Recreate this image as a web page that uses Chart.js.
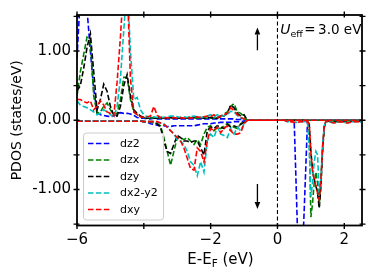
<!DOCTYPE html>
<html><head><meta charset="utf-8">
<script src="https://cdn.jsdelivr.net/npm/chart.js@4/dist/chart.umd.min.js"></script>
<style>html,body{margin:0;padding:0;background:#fff;}canvas{display:block;}</style>
</head><body>
<canvas id="c" width="374" height="280"></canvas>
<script>
// ---- data (energy grid in eV, PDOS in states/eV) ----
const energies = [
 -6.0,-5.9,-5.8,-5.7,-5.6,-5.5,-5.4,-5.3,-5.2,-5.1,
 -5.0,-4.9,-4.8,-4.7,-4.6,-4.5,-4.4,-4.3,-4.2,-4.1,
 -4.0,-3.9,-3.8,-3.7,-3.6,-3.5,-3.4,-3.3,-3.2,-3.1,
 -3.0,-2.9,-2.8,-2.7,-2.6,-2.5,-2.4,-2.3,-2.2,-2.1,
 -2.0,-1.9,-1.8,-1.7,-1.6,-1.5,-1.4,-1.3,-1.2,-1.1,
 -1.0,-0.9,-0.8,-0.7,-0.6,-0.5,-0.4,-0.3,-0.2,-0.1,
 0.0,0.1,0.2,0.3,0.4,0.5,0.6,0.7,0.8,0.9,
 0.95,1.0,1.05,1.1,1.15,1.2,1.25,1.3,1.35,1.4,1.45,1.5,
 1.6,1.7,1.8,1.9,2.0,2.1,2.2,2.3,2.4,2.5];

const orbitals = ['dz2','dzx','dzy','dx2-y2','dxy'];

const dz2Up = [
 0.9,1.8,2.5,1.6,1.0,0.45,0.12,0.08,0.07,0.06,
 0.05,0.06,0.1,0.11,0.1,0.1,0.09,0.07,0.04,0.03,
 0.03,0.02,0.02,0.03,0.02,0.02,0.02,0.02,0.02,0.02,
 0.02,0.02,0.02,0.02,0.02,0.02,0.02,0.02,0.02,0.02,
 0.02,0.02,0.02,0.02,0.02,0.02,0.02,0.02,0.01,0.01,
 0.01,0,0,0,0,0,0,0,0,0,
 0,0,0,0,0,0,0,0,0,0,
 0,0,0,0,0,0,0,0,0,0,0,0,
 0,0,0,0,0,0,0,0,0,0];
const dz2Down = [
 -0.01,-0.01,-0.01,-0.01,-0.01,-0.01,-0.01,-0.01,-0.01,-0.01,
 -0.01,-0.01,-0.01,-0.01,-0.01,-0.01,-0.01,-0.01,-0.01,-0.01,
 -0.02,-0.03,-0.05,-0.06,-0.07,-0.08,-0.08,-0.09,-0.09,-0.08,
 -0.08,-0.08,-0.08,-0.08,-0.08,-0.08,-0.07,-0.06,-0.05,-0.05,
 -0.05,-0.04,-0.04,-0.03,-0.03,-0.03,-0.03,-0.02,-0.02,-0.02,
 -0.01,0,0,0,0,0,0,0,0,0,
 0,0,0,0,0,0,-1.6,-2.5,-1.3,0,
 0,0,0,0,0,0,0,0,0,0,0,0,
 0,0,0,0,0,0,0,0,0,0];

const dzxUp = [
 0.35,0.7,0.95,1.2,1.15,0.35,0.1,0.12,0.2,0.25,
 0.15,0.08,0.1,0.3,0.62,0.62,0.3,0.12,0.08,0.05,
 0.04,0.03,0.03,0.04,0.03,0.03,0.04,0.03,0.03,0.04,
 0.03,0.04,0.03,0.03,0.04,0.03,0.03,0.04,0.03,0.03,
 0.03,0.03,0.05,0.06,0.09,0.12,0.2,0.24,0.12,0.1,
 0.05,0,0,0,0,0,0,0,0,0,
 0,0,0,0,0,0,0,0,0,0,
 0,0,0,0,0,0,0,0,0,0,0,0,
 0,0,0,0,0,0,0,0,0,0];
const dzxDown = [
 -0.01,-0.01,-0.01,-0.01,-0.01,-0.01,-0.01,-0.01,-0.01,-0.01,
 -0.01,-0.01,-0.01,-0.01,-0.01,-0.01,-0.01,-0.01,-0.01,-0.01,
 -0.02,-0.02,-0.03,-0.04,-0.05,-0.08,-0.25,-0.45,-0.65,-0.45,
 -0.25,-0.25,-0.28,-0.25,-0.3,-0.35,-0.28,-0.35,-0.2,-0.1,
 -0.08,-0.15,-0.1,-0.12,-0.08,-0.05,-0.08,-0.1,-0.12,-0.05,
 -0.02,0,0,0,0,0,0,0,0,0,
 0,0,0,0,0,0,0,0,0,-0.01,
 -0.2,-1.4,-1.2,-0.9,-0.75,-0.9,-1.25,-0.9,-0.4,-0.1,-0.02,-0.01,
 -0.01,-0.02,-0.02,-0.01,-0.02,-0.01,-0.01,-0.01,-0.01,-0.01];

const dzyUp = [
 0.42,0.5,0.75,1.05,1.25,0.7,0.15,0.3,0.52,0.42,
 0.2,0.07,0.06,0.2,0.5,0.66,0.35,0.15,0.1,0.06,
 0.04,0.03,0.04,0.03,0.03,0.04,0.03,0.03,0.04,0.03,
 0.03,0.03,0.04,0.03,0.05,0.04,0.05,0.04,0.03,0.04,
 0.04,0.03,0.03,0.05,0.06,0.1,0.22,0.18,0.1,0.06,
 0.08,0,0,0,0,0,0,0,0,0,
 0,0,0,0,0,0,0,0,0,0,
 0,0,0,0,0,0,0,0,0,0,0,0,
 0,0,0,0,0,0,0,0,0,0];
const dzyDown = [
 -0.01,-0.01,-0.01,-0.01,-0.01,-0.01,-0.01,-0.01,-0.01,-0.01,
 -0.01,-0.01,-0.01,-0.01,-0.01,-0.01,-0.01,-0.01,-0.01,-0.01,
 -0.02,-0.02,-0.02,-0.02,-0.05,-0.1,-0.3,-0.45,-0.48,-0.35,
 -0.22,-0.25,-0.3,-0.3,-0.32,-0.3,-0.3,-0.4,-0.5,-0.15,
 -0.1,-0.12,-0.08,-0.1,-0.12,-0.06,-0.1,-0.08,-0.1,-0.06,
 -0.03,0,0,0,0,0,0,0,0,0,
 0,0,0,0,0,0,0,0,0,-0.01,
 -0.05,-0.45,-0.72,-0.85,-0.95,-1.05,-1.27,-0.95,-0.45,-0.1,-0.02,-0.01,
 -0.01,-0.01,-0.01,-0.01,-0.01,-0.01,-0.01,-0.01,-0.01,-0.01];

const dx2y2Up = [
 0.28,0.22,0.2,0.18,0.15,0.12,0.08,0.1,0.15,0.12,
 0.08,0.05,0.2,0.6,1.3,2.0,1.0,0.3,0.33,0.15,
 0.08,0.05,0.04,0.05,0.04,0.05,0.04,0.05,0.06,0.06,
 0.05,0.04,0.05,0.04,0.05,0.06,0.05,0.04,0.05,0.06,
 0.08,0.05,0.08,0.05,0.07,0.08,0.13,0.12,0.07,0.03,
 0.02,0,0,0,0,0,0,0,0,0,
 0,0,0,0,0,0,0,0,0,0,
 0,0,0,0,0,0,0,0,0,0,0,0,
 0,0,0,0,0,0,0,0,0,0];
const dx2y2Down = [
 -0.01,-0.01,-0.01,-0.01,-0.01,-0.01,-0.01,-0.01,-0.01,-0.01,
 -0.01,-0.01,-0.01,-0.01,-0.01,-0.01,-0.01,-0.01,-0.01,-0.01,
 -0.02,-0.02,-0.02,-0.02,-0.03,-0.04,-0.05,-0.1,-0.15,-0.2,
 -0.28,-0.3,-0.35,-0.45,-0.6,-0.65,-0.8,-0.6,-0.75,-0.3,
 -0.2,-0.25,-0.1,-0.2,-0.22,-0.25,-0.12,-0.2,-0.1,-0.15,
 -0.05,0,0,0,0,0,0,0,0,0,
 0,0,0,-0.02,-0.02,-0.03,-0.03,-0.02,-0.02,-0.02,
 -0.4,-1.1,-0.9,-0.6,-0.45,-0.5,-1.05,-0.85,-0.35,-0.08,-0.02,-0.02,
 -0.03,-0.04,-0.03,-0.02,-0.03,-0.04,-0.03,-0.02,-0.02,-0.03];

const dxyUp = [
 0.3,0.3,0.27,0.25,0.28,0.15,0.2,0.28,0.22,0.12,
 0.1,0.06,0.55,1.2,2.0,2.0,0.6,0.12,0.08,0.05,
 0.04,0.05,0.06,0.2,0.07,0.04,0.03,0.04,0.03,0.04,
 0.03,0.04,0.03,0.04,0.03,0.04,0.05,0.04,0.05,0.06,
 0.05,0.08,0.04,0.06,0.08,0.1,0.18,0.14,0.08,0.04,
 0.02,0,0,0,0,0,0,0,0,0,
 0,0,0,0,0,0,0,0,0,0,
 0,0,0,0,0,0,0,0,0,0,0,0,
 0,0,0,0,0,0,0,0,0,0];
const dxyDown = [
 -0.015,-0.015,-0.015,-0.015,-0.015,-0.015,-0.015,-0.015,-0.015,-0.015,
 -0.015,-0.015,-0.015,-0.015,-0.015,-0.015,-0.015,-0.015,-0.015,-0.015,
 -0.02,-0.02,-0.02,-0.02,-0.02,-0.04,-0.06,-0.1,-0.15,-0.2,
 -0.25,-0.3,-0.4,-0.55,-0.7,-0.72,-0.4,-0.45,-0.6,-0.3,
 -0.12,-0.15,-0.1,-0.18,-0.12,-0.08,-0.15,-0.2,-0.2,-0.18,
 -0.05,0,0,0,0,0,0,0,0,0,
 0,0,0,-0.02,-0.02,-0.03,-0.03,-0.02,-0.02,-0.02,
 -0.05,-0.45,-0.75,-0.85,-0.95,-1.05,-1.15,-0.85,-0.4,-0.08,-0.01,-0.02,
 -0.03,-0.04,-0.03,-0.02,-0.03,-0.04,-0.03,-0.02,-0.02,-0.03];

const xTickLabels = {'-6':'\u22126','-4':'','-2':'\u22122','0':'0','2':'2'};
const yTickLabels = {'-1':'-1.00','0':'0.00','1':'1.00'};
const annotationText = ['U', 'eff', '=', '3.0 eV'];
const xTitle = ['E-E', 'F', ' (eV)'];
const yTitle = 'PDOS (states/eV)';

// ---- styling ----
const colors = ['#0000ff','#008000','#000000','#00bfbf','#ff0000'];
const upSeries = [dz2Up, dzxUp, dzyUp, dx2y2Up, dxyUp];
const downSeries = [dz2Down, dzxDown, dzyDown, dx2y2Down, dxyDown];
const FONT = 'DejaVu Sans';
const DASH = [5.5, 2.4];

const datasets = [];
orbitals.forEach((name, i) => {
  const base = {borderColor: colors[i], backgroundColor: colors[i], borderDash: DASH,
    borderWidth: 1.6, pointRadius: 0, fill: false, tension: 0};
  datasets.push(Object.assign({label: name, legend: true, order: 20 - 2*i,
    data: energies.map((e, k) => ({x: e, y: upSeries[i][k]}))}, base));
  datasets.push(Object.assign({label: name + ' down', legend: false, order: 19 - 2*i,
    data: energies.map((e, k) => ({x: e, y: downSeries[i][k]}))}, base));
});

function arrow(ctx, x1, y1, x2, y2) {
  const ang = Math.atan2(y2 - y1, x2 - x1), hl = 7, hw = 2.8;
  const bx = x2 - hl * Math.cos(ang), by = y2 - hl * Math.sin(ang);
  ctx.beginPath(); ctx.moveTo(x1, y1); ctx.lineTo(bx, by); ctx.stroke();
  ctx.beginPath(); ctx.moveTo(x2, y2);
  ctx.lineTo(bx + hw * Math.sin(ang), by - hw * Math.cos(ang));
  ctx.lineTo(bx - hw * Math.sin(ang), by + hw * Math.cos(ang));
  ctx.closePath(); ctx.fill();
}

const decor = {
  id: 'decor',
  afterDatasetsDraw(chart) {
    const ctx = chart.ctx, a = chart.chartArea;
    const xs = chart.scales.x, ys = chart.scales.y;
    ctx.save();
    // Fermi level dashed line
    ctx.strokeStyle = '#000'; ctx.lineWidth = 1.1; ctx.setLineDash([4, 2.5]);
    const x0 = xs.getPixelForValue(0);
    ctx.beginPath(); ctx.moveTo(x0, a.top); ctx.lineTo(x0, a.bottom); ctx.stroke();
    ctx.setLineDash([]);
    // spines
    ctx.lineWidth = 1.8;
    ctx.strokeRect(a.left, a.top, a.right - a.left, a.bottom - a.top);
    // ticks
    ctx.lineWidth = 1.4;
    const tin = 2.5, tout = 3.5;
    xs.ticks.forEach(t => {
      const p = xs.getPixelForValue(t.value);
      ctx.beginPath(); ctx.moveTo(p, a.bottom - tin); ctx.lineTo(p, a.bottom + tout);
      ctx.moveTo(p, a.top + tin); ctx.lineTo(p, a.top - tout); ctx.stroke();
    });
    ys.ticks.forEach(t => {
      const p = ys.getPixelForValue(t.value);
      ctx.beginPath(); ctx.moveTo(a.left + tin, p); ctx.lineTo(a.left - tout, p);
      ctx.moveTo(a.right - tin, p); ctx.lineTo(a.right + tout, p); ctx.stroke();
    });
    // spin arrows
    ctx.fillStyle = '#000'; ctx.lineWidth = 1.3;
    arrow(ctx, xs.getPixelForValue(-0.6), ys.getPixelForValue(1.01), xs.getPixelForValue(-0.6), ys.getPixelForValue(1.34));
    arrow(ctx, xs.getPixelForValue(-0.6), ys.getPixelForValue(-0.92), xs.getPixelForValue(-0.6), ys.getPixelForValue(-1.28));
    // U_eff annotation
    let ax = xs.getPixelForValue(0.08), ay = ys.getPixelForValue(1.25);
    ctx.textBaseline = 'alphabetic'; ctx.textAlign = 'left';
    ctx.font = 'italic 14px "' + FONT + '"';
    ctx.fillText(annotationText[0], ax, ay); ax += ctx.measureText(annotationText[0]).width;
    ctx.font = '9.5px "' + FONT + '"';
    ctx.fillText(annotationText[1], ax, ay + 3); ax += ctx.measureText(annotationText[1]).width + 1.5;
    ctx.font = '13.5px "' + FONT + '"';
    ctx.fillText(annotationText[2], ax, ay); ax += ctx.measureText(annotationText[2]).width + 2.5;
    ctx.fillText(annotationText[3], ax, ay);
    // x axis title with subscript
    ctx.font = '15px "' + FONT + '"';
    const w1 = ctx.measureText(xTitle[0]).width, w3 = ctx.measureText(xTitle[2]).width;
    ctx.font = '10.5px "' + FONT + '"';
    const w2 = ctx.measureText(xTitle[1]).width;
    let tx = (a.left + a.right) / 2 - (w1 + w2 + w3) / 2 + 1;
    const ty = 264;
    ctx.font = '15px "' + FONT + '"'; ctx.fillText(xTitle[0], tx, ty); tx += w1;
    ctx.font = '10.5px "' + FONT + '"'; ctx.fillText(xTitle[1], tx, ty + 3); tx += w2;
    ctx.font = '15px "' + FONT + '"'; ctx.fillText(xTitle[2], tx, ty);
    // legend
    const lx = 83.5, ly = 133, lw = 80, lh = 87;
    ctx.beginPath(); ctx.roundRect(lx, ly, lw, lh, 3);
    ctx.fillStyle = 'rgba(255,255,255,0.8)'; ctx.fill();
    ctx.strokeStyle = '#cccccc'; ctx.lineWidth = 1; ctx.stroke();
    ctx.font = '11px "' + FONT + '"'; ctx.textBaseline = 'middle';
    const legendSets = chart.data.datasets.filter(d => d.legend);
    legendSets.forEach((d, i) => {
      const yy = ly + 10.5 + i * 16.5;
      ctx.strokeStyle = d.borderColor; ctx.lineWidth = 1.5; ctx.setLineDash(DASH);
      ctx.beginPath(); ctx.moveTo(88, yy); ctx.lineTo(111, yy); ctx.stroke();
      ctx.setLineDash([]);
      ctx.fillStyle = '#000'; ctx.fillText(d.label, 120, yy + 0.5);
    });
    ctx.restore();
  }
};

new Chart(document.getElementById('c'), {
  type: 'line',
  data: {datasets},
  options: {
    responsive: false, animation: false, devicePixelRatio: 1,
    layout: {padding: {left: 0, right: 12, top: 13, bottom: 0}},
    plugins: {legend: {display: false}, tooltip: {enabled: false}},
    scales: {
      x: {type: 'linear', min: -6, max: 2.53,
        grid: {display: false, drawTicks: false}, border: {display: false},
        ticks: {stepSize: 2, includeBounds: false, autoSkip: false, maxRotation: 0, color: '#000',
          padding: 6, font: {family: FONT, size: 15},
          callback: v => { const k = String(Math.round(v)); return k in xTickLabels ? xTickLabels[k] : ''; }},
        afterFit: s => { s.height = 54.5; }},
      y: {type: 'linear', min: -1.52, max: 1.52,
        grid: {display: false, drawTicks: false}, border: {display: false},
        ticks: {stepSize: 0.5, includeBounds: false, autoSkip: false, color: '#000',
          padding: 6, font: {family: FONT, size: 15},
          callback: v => { if (Math.abs(v - Math.round(v)) > 1e-6) return ''; const k = String(Math.round(v)); return yTickLabels[k] || ''; }},
        title: {display: true, text: yTitle, color: '#000', font: {family: FONT, size: 14}, padding: {top: 9, bottom: 0}},
        afterFit: s => { s.width = 77; }}
    }
  },
  plugins: [decor]
});
</script>
</body></html>
